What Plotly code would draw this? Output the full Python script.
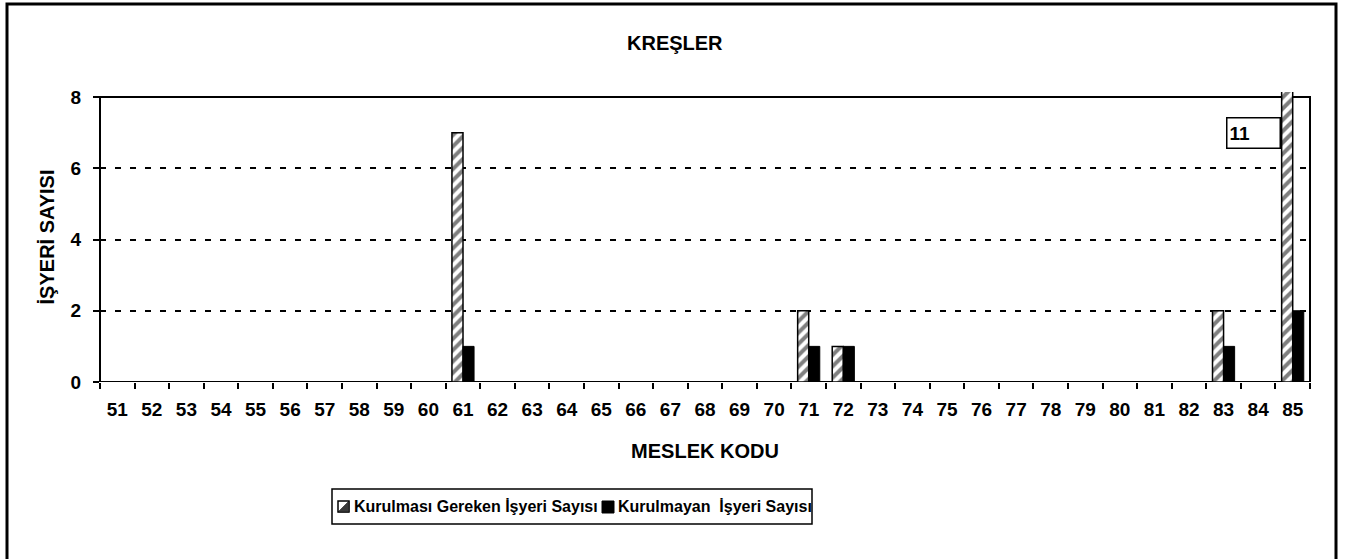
import plotly.graph_objects as go

# Meslek kodları (x ekseni kategorileri)
codes = [str(c) for c in range(51, 86)]

# Kod -> işyeri sayısı
required = {"61": 7, "71": 2, "72": 1, "83": 2, "85": 11}
missing = {"61": 1, "71": 1, "72": 1, "83": 1, "85": 2}

y_ticks = [0, 2, 4, 6, 8]
y_max = 8

series_names = ["Kurulması Gereken İşyeri Sayısı", "Kurulmayan  İşyeri Sayısı"]

req_vals = [required.get(c, 0) for c in codes]
mis_vals = [missing.get(c, 0) for c in codes]

FONT = "Liberation Sans, Arial, sans-serif"

W, H = 1345, 559
ML, MR, MT, MB = 100, 35, 92, 177
plot_w = W - ML - MR
plot_h = H - MT - MB
# the value axis is slightly taller than the framed 0..8 area so the off-scale bar pokes out
y_top = y_max * plot_h / (plot_h - 5)


def px_x(p):
    return (p - ML) / plot_w


def px_y(p):
    return (H - MB - p) / plot_h


fig = go.Figure()
fig.add_trace(go.Bar(
    x=codes, y=req_vals, name=series_names[0],
    marker=dict(
        color="white",
        line=dict(color="black", width=1.5),
        pattern=dict(shape="/", fgcolor="black", bgcolor="white", size=8, solidity=0.5),
    ),
))
fig.add_trace(go.Bar(
    x=codes, y=mis_vals, name=series_names[1],
    marker=dict(color="black", line=dict(color="black", width=1)),
))

# framed plot area from 0 to 8
fig.add_shape(type="rect", xref="paper", yref="y", x0=0, x1=1, y0=0, y1=y_max,
              line=dict(color="black", width=2), layer="between")

# outer chart border
fig.add_shape(type="rect", xref="paper", yref="paper",
              x0=px_x(7), x1=px_x(1336), y0=px_y(4), y1=px_y(575),
              line=dict(color="black", width=3))

# value label for the off-scale bar (placed in the 84 slot, next to the bar)
big = "85"
fig.add_annotation(
    x=codes.index("84"), y=7.0, xref="x", yref="y", xshift=-5,
    text=f"<b>{required[big]}</b>", showarrow=False,
    font=dict(family=FONT, size=19, color="black"),
    align="left", width=48, height=25,
    bgcolor="white", bordercolor="black", borderwidth=1.5, borderpad=2,
)

# chart title
fig.add_annotation(
    x=px_x(675), y=px_y(43), xref="paper", yref="paper",
    xanchor="center", yanchor="middle",
    text="<b>KREŞLER</b>", showarrow=False,
    font=dict(family=FONT, size=20, color="black"),
)

# legend box below the axis title
fig.add_shape(type="rect", xref="paper", yref="paper",
              x0=px_x(332), x1=px_x(812), y0=px_y(489), y1=px_y(524),
              line=dict(color="black", width=1.5), fillcolor="white")
# hatched-series key: white square with a dark lower-right half
fig.add_shape(type="rect", xref="paper", yref="paper",
              x0=px_x(338), x1=px_x(349), y0=px_y(501), y1=px_y(512),
              line=dict(color="black", width=1.5), fillcolor="white")
fig.add_shape(type="path", xref="paper", yref="paper",
              path=(f"M {px_x(349)} {px_y(501)} L {px_x(349)} {px_y(512)} "
                    f"L {px_x(338)} {px_y(512)} Z"),
              line=dict(color="black", width=0.5), fillcolor="#3a3a3a")
# solid-series key
fig.add_shape(type="rect", xref="paper", yref="paper",
              x0=px_x(602), x1=px_x(614), y0=px_y(501), y1=px_y(513),
              line=dict(color="black", width=1), fillcolor="black")
for name, left in zip(series_names, [352, 616]):
    fig.add_annotation(
        x=px_x(left), y=px_y(507), xref="paper", yref="paper",
        xanchor="left", yanchor="middle", showarrow=False,
        text=f"<b>{name.replace('  ', '&nbsp; ')}</b>",
        font=dict(family=FONT, size=16, color="black"),
    )

fig.update_layout(
    width=W, height=H,
    margin=dict(l=ML, r=MR, t=MT, b=MB),
    paper_bgcolor="white", plot_bgcolor="white",
    barmode="group", bargap=0.36, bargroupgap=0,
    font=dict(family=FONT, color="black"),
    showlegend=False,
)

fig.update_xaxes(
    type="category", categoryorder="array", categoryarray=codes,
    range=[-0.5, len(codes) - 0.5], tickangle=0,
    tickson="boundaries", ticks="outside", ticklen=6, tickwidth=1.5, tickcolor="black",
    ticklabelstandoff=14,
    tickfont=dict(family=FONT, size=19, color="black", weight="bold"),
    showgrid=False, showline=False, zeroline=False,
    title=dict(text="<b>MESLEK KODU</b>", font=dict(family=FONT, size=20, color="black"),
               standoff=24),
)

fig.update_yaxes(
    range=[0, y_top], tickvals=y_ticks, ticktext=[str(t) for t in y_ticks],
    ticks="outside", ticklen=6, tickwidth=1.5, tickcolor="black",
    ticklabelstandoff=8,
    tickfont=dict(family=FONT, size=19, color="black", weight="bold"),
    showgrid=True, gridcolor="black", gridwidth=2, griddash="6px,9px",
    showline=False, zeroline=False,
    title=dict(text="<b>İŞYERİ SAYISI</b>", font=dict(family=FONT, size=20, color="black"),
               standoff=10),
)

fig.write_html("out.html")
